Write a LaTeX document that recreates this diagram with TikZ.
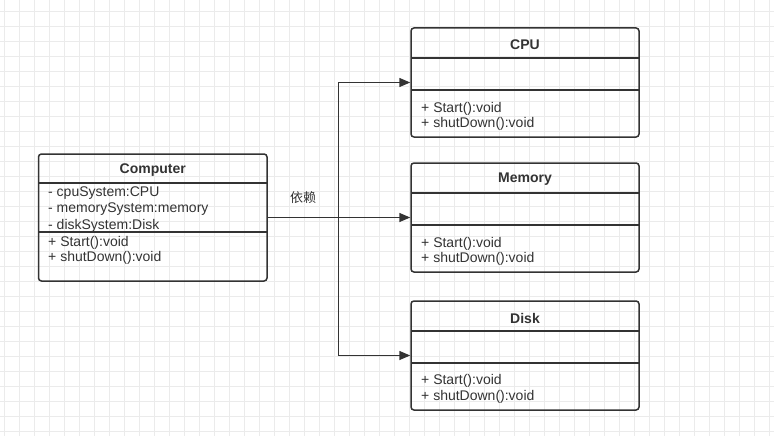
\documentclass[tikz,border=0pt]{standalone}
\usepackage{fontspec}
\setmainfont{Liberation Sans}
\newfontfamily\cjk{Noto Sans CJK SC}
\usetikzlibrary{arrows.meta}
\definecolor{linec}{HTML}{333333}
\definecolor{gridc}{HTML}{EBEBEB}
\tikzset{
  classbox/.style={draw=linec, line width=1.5pt, rounded corners=3pt, inner sep=0pt},
  classname/.style={font=\fontsize{14}{16}\selectfont\bfseries, text=linec, yshift=-1.5pt},
  member/.style={anchor=west, inner sep=0pt, font=\fontsize{14}{16}\selectfont, text=linec, yshift=-1.5pt},
  divider/.style={draw=linec, line width=1.5pt},
  dep/.style={draw=linec, line width=1.5pt, -{Triangle[length=11pt, width=9pt]}},
  gridline/.style={draw=gridc, line width=0.8pt}
}
\begin{document}
\begin{tikzpicture}[x=1pt, y=-1pt]
            \useasboundingbox (0,0) rectangle (774,436);
            \fill [white] (0,0) rectangle (774,436);
            % grid paper
            \foreach \k in {0,...,51} \draw [gridline] ({4.3+15*\k},0) -- ({4.3+15*\k},436);
            \foreach \k in {0,...,28} \draw [gridline] (0,{11.7+15*\k}) -- (774,{11.7+15*\k});
            % class boxes
            \node (comp) [classbox, minimum width=228.5pt, minimum height=127pt] at (152.75,217.5) {};
            \node (cpu) [classbox, minimum width=228pt, minimum height=109pt] at (525,82.5) {};
            \node (mem) [classbox, minimum width=228pt, minimum height=109pt] at (525,217.5) {};
            \node (disk) [classbox, minimum width=228pt, minimum height=109pt] at (525,355.5) {};
            \draw [divider] (38.5,183) -- (267,183);
            \draw [divider] (38.5,232) -- (267,232);
            \draw [divider] (411,58) -- (639,58);
            \draw [divider] (411,90) -- (639,90);
            \draw [divider] (411,193) -- (639,193);
            \draw [divider] (411,225) -- (639,225);
            \draw [divider] (411,331) -- (639,331);
            \draw [divider] (411,363) -- (639,363);
            % Computer
            \node (compname) [classname] at (152.75,169) {Computer};
            \node (compa1) [member] at (48,192) {- cpuSystem:CPU};
            \node (compa2) [member] at (48,208) {- memorySystem:memory};
            \node (compa3) [member] at (48,224) {- diskSystem:Disk};
            \node (compm1) [member] at (48,241) {+ Start():void};
            \node (compm2) [member] at (48,256) {+ shutDown():void};
            % CPU
            \node (cpuname) [classname] at (525,43) {CPU};
            \node (cpum1) [member] at (421,107) {+ Start():void};
            \node (cpum2) [member] at (421,122) {+ shutDown():void};
            % Memory
            \node (memname) [classname] at (525,178) {Memory};
            \node (memm1) [member] at (421,242) {+ Start():void};
            \node (memm2) [member] at (421,257) {+ shutDown():void};
            % Disk
            \node (diskname) [classname] at (525,317) {Disk};
            \node (diskm1) [member] at (421,379) {+ Start():void};
            \node (diskm2) [member] at (421,395) {+ shutDown():void};
            % dependencies
            \coordinate (junc) at (338.5,217.5);
            \draw [dep] (comp.east) -- (mem.west);
            \path (comp.east) -- node (deplabel) [above=10pt, pos=0.5, font=\cjk\fontsize{13}{15}\selectfont, text=linec] {依赖} (junc);
            \draw [dep] (junc) |- (cpu.west);
            \draw [dep] (junc) |- (disk.west);
        \end{tikzpicture}
\end{document}
